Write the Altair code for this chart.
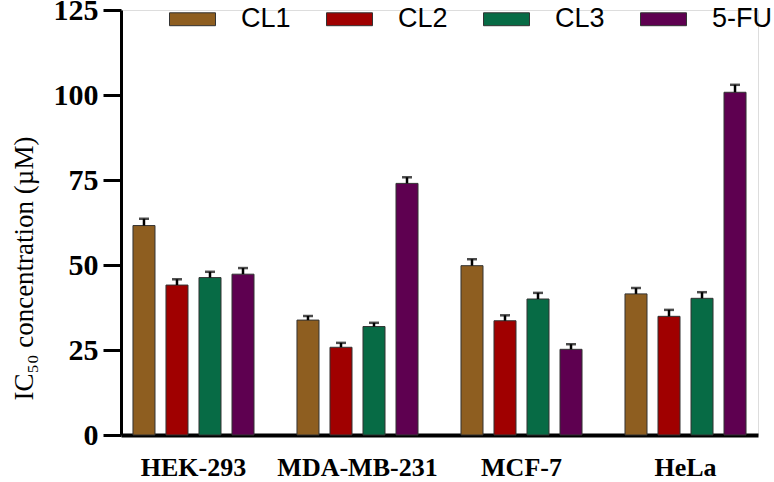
import altair as alt
import pandas as pd

cells = ["HEK-293", "MDA-MB-231", "MCF-7", "HeLa"]
compounds = ["CL1", "CL2", "CL3", "5-FU"]
colors = ["#8E5E20", "#A00000", "#076B45", "#5E0050"]

cl1 = [61.6, 33.8, 49.8, 41.5]
cl2 = [44.1, 25.8, 33.6, 34.9]
cl3 = [46.3, 31.9, 40.0, 40.2]
fu5 = [47.3, 74.0, 25.2, 100.8]

cl1_err = [2.0, 1.2, 1.9, 1.7]
cl2_err = [1.7, 1.3, 1.6, 1.9]
cl3_err = [1.7, 1.1, 1.8, 1.8]
fu5_err = [1.8, 1.8, 1.5, 2.2]

rows = []
for comp, vals, errs in zip(compounds, [cl1, cl2, cl3, fu5], [cl1_err, cl2_err, cl3_err, fu5_err]):
    for c, v, e in zip(cells, vals, errs):
        rows.append({"cell": c, "compound": comp, "value": v, "upper": v + e})
df = pd.DataFrame(rows)

FONT_EXPR = "datum.label === '5-FU' ? 'Liberation Serif' : 'Liberation Sans'"
SIZE_EXPR = "datum.label === '5-FU' ? 26 : 27"
encode_variants = [
    {"labels": {"font": {"value": {"expr": FONT_EXPR}}}},
    {"labels": {"update": {"font": {"signal": FONT_EXPR}}}},
    {"labels": {"font": {"signal": FONT_EXPR}}},
    None,
]


def build(enc):
    legend_kw = dict(title=None, orient="none", direction="horizontal",
                     legendX=48, legendY=-14.5, padding=0,
                     symbolType="M-1,-0.28L1,-0.28L1,0.28L-1,0.28Z",
                     symbolSize=2116, symbolStrokeColor="#333333",
                     symbolStrokeWidth=1, symbolOpacity=1,
                     labelFont="Liberation Sans", labelFontSize=27,
                     labelColor="black", labelOffset=25,
                     columnPadding=33, labelLimit=200)
    if enc is not None:
        legend_kw["encode"] = enc
    x_enc = alt.X("cell:N", sort=cells,
                  scale=alt.Scale(paddingInner=0.262, paddingOuter=0.073),
                  axis=alt.Axis(title=None, labelAngle=0, ticks=False,
                                labelFont="Liberation Serif", labelFontWeight="bold",
                                labelFontSize=26, labelColor="black", labelPadding=19,
                                domainColor="black", domainWidth=4))
    xo_enc = alt.XOffset("compound:N", sort=compounds,
                         scale=alt.Scale(paddingInner=0.333, paddingOuter=0))

    bars = alt.Chart(df).mark_bar(stroke="#333333", strokeWidth=1).encode(
        x=x_enc,
        xOffset=xo_enc,
        y=alt.Y("value:Q",
                scale=alt.Scale(domain=[0, 125], nice=False),
                axis=alt.Axis(values=[0, 25, 50, 75, 100, 125], grid=False,
                              title="IC₅₀ concentration (µM)",
                              titleFont="Liberation Serif", titleFontWeight="normal",
                              titleFontSize=27, titleColor="black",
                              titleAngle=-90, titleX=-89, titleY=258,
                              titleAlign="center", titleBaseline="alphabetic",
                              labelFont="Liberation Serif", labelFontWeight="bold",
                              labelFontSize=30, labelColor="black", labelPadding=5,
                              tickSize=18, tickWidth=3, tickColor="black",
                              domainColor="black", domainWidth=3)),
        color=alt.Color("compound:N", sort=compounds,
                        scale=alt.Scale(domain=compounds, range=colors),
                        legend=alt.Legend(**legend_kw)),
    )

    err = alt.Chart(df).mark_rule(color="black", strokeWidth=2.5).encode(
        x=alt.X("cell:N", sort=cells),
        xOffset=alt.XOffset("compound:N", sort=compounds),
        y="value:Q",
        y2="upper:Q",
    )

    caps = alt.Chart(df).mark_tick(color="black", thickness=2.5, size=10).encode(
        x=alt.X("cell:N", sort=cells),
        xOffset=alt.XOffset("compound:N", sort=compounds),
        y="upper:Q",
    )

    return alt.layer(bars, err, caps).properties(
        width=637, height=425,
        autosize=alt.AutoSizeParams(type="none"),
        padding={"left": 121, "top": 10, "right": 16, "bottom": 47},
    ).configure_view(stroke=None).configure(background="white")


chart = None
for enc in encode_variants:
    try:
        c = build(enc)
        c.to_dict()
        chart = c
        break
    except Exception:
        continue

chart.save("out.html", embed_options={"renderer": "svg", "actions": False})
